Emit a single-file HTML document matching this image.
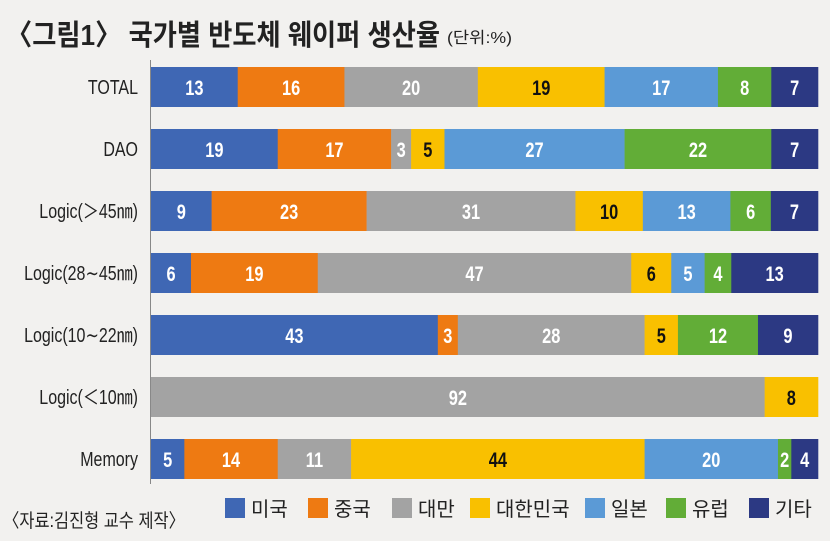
<!DOCTYPE html>
<html><head><meta charset="utf-8">
<style>
body{margin:0;background:#f2f1ef;}
svg{display:block;}
.cat{font-family:"Liberation Sans","Noto Sans CJK KR",sans-serif;font-size:20px;fill:#222;}
.val{font-family:"Liberation Sans",sans-serif;font-size:21px;font-weight:bold;}
.kr{font-family:"Liberation Sans","Noto Sans CJK KR",sans-serif;}
</style></head><body>
<svg id="chart" width="830" height="541" xmlns="http://www.w3.org/2000/svg">
<rect width="830" height="541" fill="#f2f1ef"/>
<text x="6" y="45" class="kr" font-size="29" font-weight="bold" fill="#222" textLength="434" lengthAdjust="spacingAndGlyphs">〈그림1〉 국가별 반도체 웨이퍼 생산율</text>
<text x="447" y="43" class="kr" font-size="16" fill="#222" textLength="65" lengthAdjust="spacingAndGlyphs">(단위:%)</text>
<line x1="150.5" y1="60" x2="150.5" y2="484" stroke="#888" stroke-width="1"/>
<g id="bars"></g>
<text x="3" y="527" class="kr" font-size="19" fill="#222" textLength="182" lengthAdjust="spacingAndGlyphs">〈자료:김진형 교수 제작〉</text>
<g id="legend"></g>
</svg>
<script>
const categories = ["TOTAL","DAO","Logic(＞45㎚)","Logic(28∼45㎚)","Logic(10∼22㎚)","Logic(＜10㎚)","Memory"];
const seriesNames = ["미국","중국","대만","대한민국","일본","유럽","기타"];
const usa    = [13,19,9,6,43,0,5];
const china  = [16,17,23,19,3,0,14];
const taiwan = [20,3,31,47,28,92,11];
const korea  = [19,5,10,6,5,8,44];
const japan  = [17,27,13,5,0,0,20];
const europe = [8,22,6,4,12,0,2];
const others = [7,7,7,13,9,0,4];
const series = [usa,china,taiwan,korea,japan,europe,others];
const colors = ["#3f67b4","#ee7a12","#a3a3a3","#f9c000","#5b9ad6","#62ad37","#2c3983"];
const textColors = ["#fff","#fff","#fff","#111","#fff","#fff","#fff"];
const NS="http://www.w3.org/2000/svg";
const x0=151, x1=818, yTop=67, rowStep=62, barH=40;
function xScale(v,total){return (x1-x0)*v/total;}
function yScale(i){return yTop+i*rowStep;}
const gb=document.getElementById('bars');
categories.forEach((c,i)=>{
  const g=document.createElementNS(NS,'g');
  g.setAttribute('transform','translate(138,'+(yScale(i)+barH/2+7)+') scale(0.8,1)');
  const t=document.createElementNS(NS,'text');
  t.setAttribute('x',0);t.setAttribute('y',0);
  t.setAttribute('text-anchor','end');t.setAttribute('class','cat');
  t.textContent=c;
  
  
  g.appendChild(t);
  gb.appendChild(g);
  let total=0;series.forEach(s=>total+=s[i]);
  let acc=0;
  series.forEach((s,k)=>{
    const v=s[i]; if(!v) return;
    const x=x0+xScale(acc,total), w=xScale(v,total);
    const r=document.createElementNS(NS,'rect');
    r.setAttribute('x',x);r.setAttribute('y',yScale(i));r.setAttribute('width',w+0.3);r.setAttribute('height',barH);
    r.setAttribute('fill',colors[k]);
    
    
    gb.appendChild(r);
    const lg2=document.createElementNS(NS,'g');
    lg2.setAttribute('transform','translate('+(x+w/2)+','+(yScale(i)+barH/2+8)+') scale(0.78,1)');
    const l=document.createElementNS(NS,'text');
    l.setAttribute('x',0);l.setAttribute('y',0);
    l.setAttribute('text-anchor','middle');l.setAttribute('class','val');l.setAttribute('fill',textColors[k]);
    l.textContent=v;
    
    
    lg2.appendChild(l);
    gb.appendChild(lg2);
    acc+=v;
  });
});
const lg=document.getElementById('legend');
const lx=[225,308,392,470,585,666,749];
seriesNames.forEach((n,k)=>{
  const r=document.createElementNS(NS,'rect');
  r.setAttribute('x',lx[k]);r.setAttribute('y',498);r.setAttribute('width',20);r.setAttribute('height',20);
  r.setAttribute('fill',colors[k]);
  
  
  lg.appendChild(r);
  const t=document.createElementNS(NS,'text');
  t.setAttribute('x',lx[k]+26);t.setAttribute('y',516);
  t.setAttribute('class','kr');t.setAttribute('font-size','20');t.setAttribute('fill','#222');
  t.textContent=n;
  
  
  lg.appendChild(t);
});
</script>
</body></html>
